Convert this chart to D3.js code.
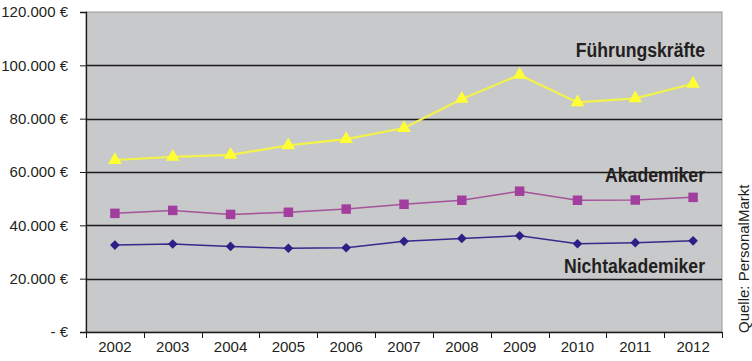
<!DOCTYPE html>
<html>
<head>
<meta charset="utf-8">
<script src="https://cdn.jsdelivr.net/npm/d3@7"></script>
<style>
  body { margin: 0; background: #fff; }
  svg { display: block; }
  .axis text { font-family: "Liberation Sans", Arial, sans-serif; font-size: 15px; fill: #231f20; }
  .label { font-family: "Liberation Sans", Arial, sans-serif; font-weight: bold; font-size: 21px; fill: #231f20; }
</style>
</head>
<body>
<div class="chart"></div>
<script>
// Gehälter nach Gruppe
var years = ["2002", "2003", "2004", "2005", "2006", "2007", "2008", "2009", "2010", "2011", "2012"];
var fuehrung = [64500, 65700, 66400, 70000, 72300, 76500, 87400, 96400, 86100, 87600, 93100];
var akademiker = [44500, 45600, 44100, 44900, 46100, 47900, 49400, 52800, 49400, 49500, 50500];
var nichtakademiker = [32600, 33000, 32100, 31400, 31600, 34000, 35100, 36100, 33100, 33500, 34200];
var y_ticks = [0, 20000, 40000, 60000, 80000, 100000, 120000];

var width = 752, height = 361;
var margin = {top: 12, right: 30, bottom: 29, left: 86};
var plot_w = width - margin.left - margin.right;
var plot_h = height - margin.top - margin.bottom;

var svg = d3.select('.chart')
    .append('svg')
        .attr('width', width)
        .attr('height', height);

var x = d3.scaleBand()
    .domain(years)
    .range([0, plot_w]);

var y = d3.scaleLinear()
    .domain([0, 120000])
    .range([plot_h, 0]);

var g = svg.append('g')
    .attr('transform', 'translate(' + margin.left + ',' + margin.top + ')');

g.append('rect')
    .attr('width', plot_w)
    .attr('height', plot_h)
    .attr('fill', '#c8c9cb')
    .attr('stroke', '#9a9a9a')
    .attr('stroke-width', 1);

// gridlines
g.selectAll('.grid')
    .data(y_ticks.filter(function(d) { return d > 0 && d < 120000; }))
    .enter()
    .append('line')
        .attr('x1', 0)
        .attr('x2', plot_w)
        .attr('y1', function(d) { return Math.round(y(d)) + 0.5; })
        .attr('y2', function(d) { return Math.round(y(d)) + 0.5; })
        .attr('stroke', '#1a1a1a')
        .attr('stroke-width', 1.3);

function euro(d) {
    if (d === 0) return '- €';
    return d3.format(',')(d).replace(/,/g, '.') + ' €';
}

var yAxis = g.append('g')
    .attr('class', 'axis')
    .call(d3.axisLeft(y).tickValues(y_ticks).tickFormat(euro).tickSize(6).tickPadding(12));
yAxis.select('.domain').attr('stroke', '#1a1a1a').attr('stroke-width', 1.3);
yAxis.selectAll('.tick line').attr('stroke', '#1a1a1a');

var xAxis = g.append('g')
    .attr('class', 'axis')
    .attr('transform', 'translate(0,' + plot_h + ')')
    .call(d3.axisBottom(x).tickSize(0).tickPadding(9));
xAxis.select('.domain').attr('stroke', '#1a1a1a').attr('stroke-width', 1.3);

// ticks between categories
xAxis.selectAll('.sep')
    .data(years.concat(['end']))
    .enter()
    .append('line')
        .attr('x1', function(d, i) { return Math.round(i * x.step()) + 0.5; })
        .attr('x2', function(d, i) { return Math.round(i * x.step()) + 0.5; })
        .attr('y1', 0)
        .attr('y2', 6)
        .attr('stroke', '#1a1a1a');

var line = d3.line()
    .x(function(d, i) { return x(years[i]) + x.bandwidth() / 2; })
    .y(function(d) { return y(d); });

var series = [
    {values: fuehrung, line: '#f2f24a', fill: '#ffff33', symbol: d3.symbolTriangle, size: 80, width: 2.2},
    {values: akademiker, line: '#a5539b', fill: '#a23f9e', symbol: d3.symbolSquare, size: 90, width: 1.5},
    {values: nichtakademiker, line: '#332a8c', fill: '#2e1e86', symbol: d3.symbolDiamond2, size: 60, width: 1.5}
];

series.forEach(function(s) {
    g.append('path')
        .datum(s.values)
        .attr('d', line)
        .attr('fill', 'none')
        .attr('stroke', s.line)
        .attr('stroke-width', s.width);

    g.selectAll(null)
        .data(s.values)
        .enter()
        .append('path')
            .attr('d', d3.symbol().type(s.symbol).size(s.size))
            .attr('transform', function(d, i) {
                return 'translate(' + (x(years[i]) + x.bandwidth() / 2) + ',' + y(d) + ')';
            })
            .attr('fill', s.fill);
});

// series labels (condensed look via horizontal squeeze)
var labels = [
    {text: 'Führungskräfte', value: 103000},
    {text: 'Akademiker', value: 56200},
    {text: 'Nichtakademiker', value: 22100}
];
g.selectAll('.label')
    .data(labels)
    .enter()
    .append('text')
        .attr('class', 'label')
        .attr('transform', function(d) { return 'translate(619,' + y(d.value) + ') scale(0.84,1)'; })
        .attr('text-anchor', 'end')
        .text(function(d) { return d.text; });

svg.append('text')
    .attr('transform', 'translate(749,333) rotate(-90)')
    .attr('font-family', '"Liberation Sans", Arial, sans-serif')
    .attr('font-size', 15)
    .attr('fill', '#231f20')
    .text('Quelle: PersonalMarkt');
</script>
</body>
</html>
